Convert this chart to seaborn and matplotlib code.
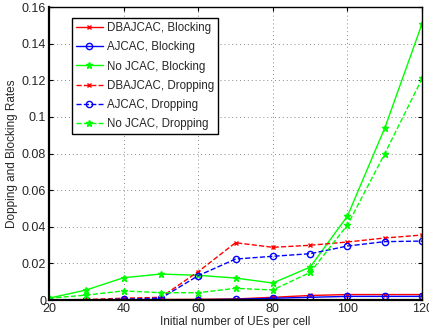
import matplotlib
matplotlib.use("Agg")
import matplotlib.pyplot as plt
from matplotlib.ticker import FuncFormatter
import seaborn as sns
import pandas as pd

ues = [20, 30, 40, 50, 60, 70, 80, 90, 100, 110, 120]

dba_block = [0.0, 0.0, 0.0002, 0.0003, 0.0004, 0.0006, 0.0015, 0.0025, 0.003, 0.003, 0.003]
aj_block = [0.0, 0.0, 0.0, 0.0, 0.0002, 0.0004, 0.001, 0.0015, 0.002, 0.002, 0.002]
no_block = [0.001, 0.0055, 0.0122, 0.0142, 0.0135, 0.012, 0.0093, 0.018, 0.0459, 0.094, 0.151]
dba_drop = [0.0, 0.0003, 0.001, 0.0015, 0.0155, 0.0313, 0.0288, 0.0299, 0.0317, 0.0339, 0.0355]
aj_drop = [0.0, 0.0, 0.0005, 0.001, 0.0133, 0.0224, 0.0239, 0.0253, 0.0295, 0.0319, 0.0322]
no_drop = [0.001, 0.0027, 0.005, 0.004, 0.004, 0.0064, 0.0055, 0.0151, 0.041, 0.080, 0.121]

series = [
    ("DBAJCAC, Blocking", dba_block, "#ff0000", "-", "x"),
    ("AJCAC, Blocking", aj_block, "#0000ff", "-", "o"),
    ("No JCAC, Blocking", no_block, "#00ff00", "-", "*"),
    ("DBAJCAC, Dropping", dba_drop, "#ff0000", "--", "x"),
    ("AJCAC, Dropping", aj_drop, "#0000ff", "--", "o"),
    ("No JCAC, Dropping", no_drop, "#00ff00", "--", "*"),
]
msize = {"x": 3.5, "o": 4.5, "*": 5}

sns.set_style("white")
plt.rcParams["font.family"] = ["Liberation Sans", "DejaVu Sans"]

fig = plt.figure(figsize=(4.29, 3.36), dpi=100)
ax = fig.add_axes([0.114, 0.107, 0.87, 0.872])

for name, vals, col, ls, mk in series:
    df = pd.DataFrame({"n": ues, "rate": vals})
    sns.lineplot(data=df, x="n", y="rate", ax=ax, color=col, linestyle=ls,
                 marker=mk, markersize=msize[mk],
                 markerfacecolor="none" if mk == "o" else col,
                 markeredgecolor=col, markeredgewidth=1.0, linewidth=1.0,
                 label=name)

ax.set_xlim(20, 120)
ax.set_ylim(0, 0.16)
ax.set_xticks([20, 40, 60, 80, 100, 120])
ax.set_yticks([0, 0.02, 0.04, 0.06, 0.08, 0.1, 0.12, 0.14, 0.16])
ax.yaxis.set_major_formatter(FuncFormatter(lambda v, p: ("%g" % round(v, 4))))
ax.grid(True, linestyle=(0, (1, 3)), color="#888888", linewidth=0.7)
ax.tick_params(direction="in", length=3, labelsize=9, color="black",
               top=True, right=True, bottom=True, left=True, pad=2)
for s in ax.spines.values():
    s.set_color("black")
    s.set_linewidth(1.0)
ax.spines["left"].set_linewidth(1.6)
ax.spines["bottom"].set_linewidth(1.6)

ax.set_xlabel("Initial number of UEs per cell", fontsize=8.5, labelpad=1)
ax.set_ylabel("Dopping and Blocking Rates", fontsize=8.5, labelpad=3)

leg = ax.legend(loc="upper left", bbox_to_anchor=(0.062, 0.962), fontsize=8.3,
                frameon=True, fancybox=False, framealpha=1, edgecolor="black",
                handlelength=2.3, borderpad=0.35, labelspacing=0.62,
                handletextpad=0.35, borderaxespad=0)
leg.get_frame().set_linewidth(1.0)

fig.savefig("out.png", dpi=100)
